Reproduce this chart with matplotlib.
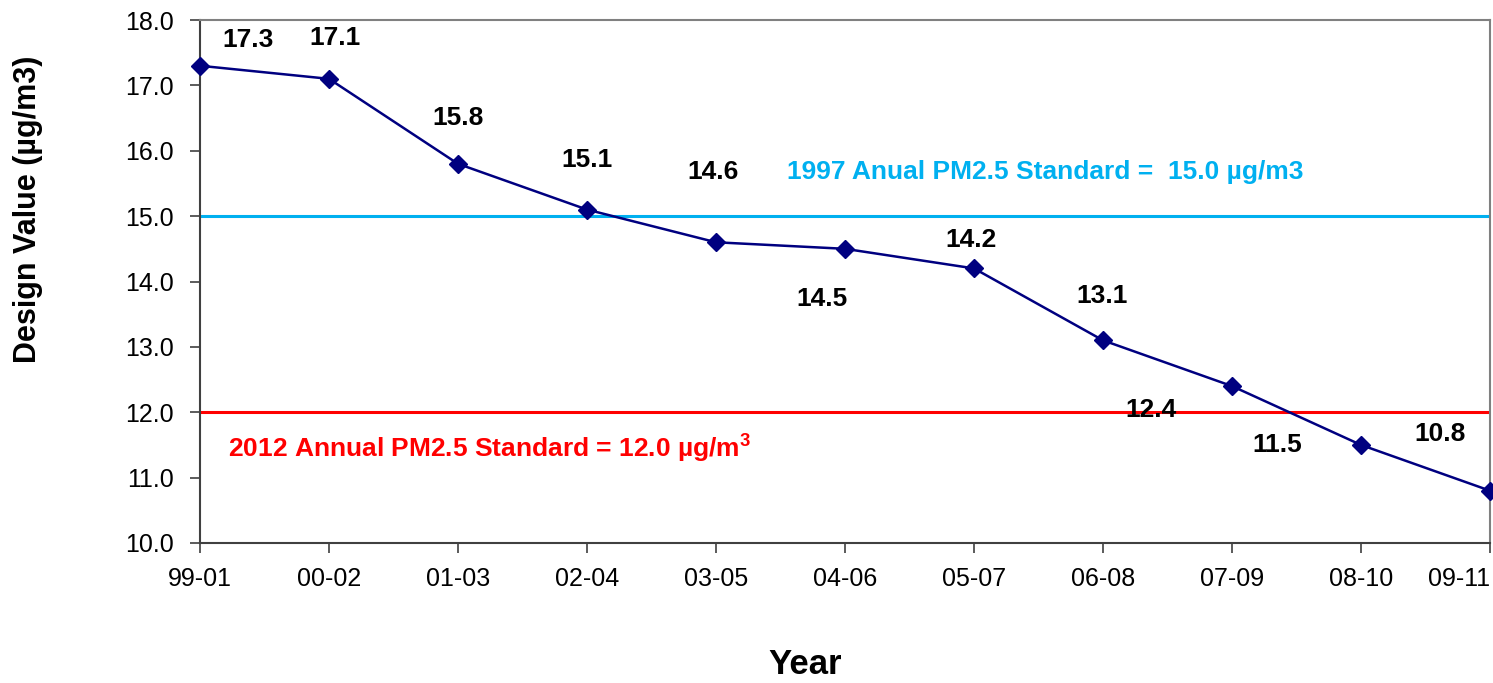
import matplotlib
matplotlib.use("Agg")
import matplotlib.pyplot as plt

plt.rcParams['font.family'] = ['Liberation Sans', 'DejaVu Sans']

periods = ["99-01", "00-02", "01-03", "02-04", "03-05", "04-06", "05-07", "06-08", "07-09", "08-10", "09-11"]
design_values = [17.3, 17.1, 15.8, 15.1, 14.6, 14.5, 14.2, 13.1, 12.4, 11.5, 10.8]
# label anchor offsets (in data units) for each data label
label_dx = [0.37, 0.05, 0.0, 0.0, -0.02, -0.18, -0.02, -0.01, -0.63, -0.65, -0.39]
label_dy = [0.39, 0.62, 0.70, 0.76, 1.08, -0.77, 0.44, 0.68, -0.36, 0.0, 0.87]
std_1997 = 15.0
std_2012 = 12.0

fig = plt.figure(figsize=(14.93, 6.83), dpi=100)
ax = fig.add_axes([200/1493, 1-543/683, 1290/1493, 523/683])

x = list(range(len(periods)))
ax.axhline(std_1997, color='#00B0F0', lw=2.2, zorder=1)
ax.axhline(std_2012, color='#FF0000', lw=2.2, zorder=1)
ax.plot(x, design_values, color='#000080', lw=1.8, marker='D', markersize=9, clip_on=False, zorder=3)

for i, v in enumerate(design_values):
    ax.text(i + label_dx[i], v + label_dy[i], f"{v:.1f}", ha='center', va='center',
            fontsize=19, fontweight='bold', color='black')

ax.text(4.55, 15.68, "1997 Anual PM2.5 Standard =  15.0 µg/m3", color='#00B0F0',
        fontsize=19, fontweight='bold', ha='left', va='center')
ax.text(0.22, 11.46, "2012 Annual PM2.5 Standard = 12.0 µg/m$^{\\mathregular{3}}$", color='#FF0000',
        fontsize=19, fontweight='bold', ha='left', va='center')

ax.set_xlim(0, 10)
ax.set_ylim(10, 18)
ax.set_xticks(x)
ax.set_xticklabels(periods)
ax.set_yticks([10, 11, 12, 13, 14, 15, 16, 17, 18])
ax.set_yticklabels([f"{t:.1f}" for t in range(10, 19)])
ax.tick_params(axis='both', labelsize=18, direction='out', length=7, width=1.2, color='#404040')
ax.tick_params(axis='x', pad=10)
ax.tick_params(axis='y', pad=12)
ax.get_xticklabels()[-1].set_horizontalalignment('right')
ax.get_xticklabels()[-1].set_x(10)

for s in ax.spines.values():
    s.set_color('#808080')
    s.set_linewidth(1.5)
ax.spines['left'].set_color('#404040')
ax.spines['bottom'].set_color('#404040')

fig.text(28/1493, 1-209/683, "Design Value (µg/m3)", fontsize=22, fontweight='bold',
         rotation=90, ha='center', va='center')
fig.text(805/1493, 1-665/683, "Year", fontsize=25, fontweight='bold', ha='center', va='center')

fig.savefig("out.png", dpi=100)
